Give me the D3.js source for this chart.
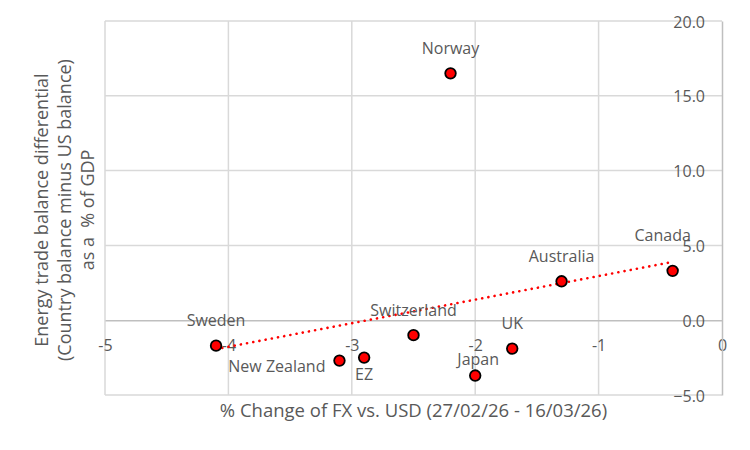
<!DOCTYPE html>
<html><head><meta charset="utf-8">
<script src="https://cdn.jsdelivr.net/npm/d3@7"></script>
<style>body{margin:0;background:#fff}svg{display:block}text{font-family:"Open Sans","Noto Sans",sans-serif;fill:#595959}</style>
</head><body>
<svg id="c" width="750" height="450"></svg>
<script>
const countries = ["Sweden","New Zealand","EZ","Switzerland","Japan","UK","Australia","Canada","Norway"];
const fxChange = [-4.1,-3.1,-2.9,-2.5,-2.0,-1.7,-1.3,-0.4,-2.2];
const energyDiff = [-1.7,-2.7,-2.5,-1.0,-3.7,-1.9,2.6,3.3,16.5];
const labelPos = ["above","left","below","above","above","above","above","above","above"];
const xTicks = [-5,-4,-3,-2,-1,0];
const yTicks = [-5,0,5,10,15,20];
const xTitle = "% Change of FX vs. USD (27/02/26 - 16/03/26)";
const yTitle = ["Energy trade balance differential","(Country balance minus US balance)","as a  % of GDP"];

const svg = d3.select("#c");
const x = d3.scaleLinear().domain([-5,0]).range([105,722]);
const y = d3.scaleLinear().domain([-5,20]).range([395,21]);

// gridlines
svg.append("g").selectAll("line").data(xTicks.filter(d=>d!==0)).join("line")
  .attr("x1",d=>x(d)).attr("x2",d=>x(d)).attr("y1",y(20)).attr("y2",y(-5))
  .attr("stroke","#d9d9d9").attr("stroke-width",1.5);
svg.append("g").selectAll("line").data(yTicks.filter(d=>d!==0)).join("line")
  .attr("x1",x(-5)).attr("x2",x(0)).attr("y1",d=>y(d)).attr("y2",d=>y(d))
  .attr("stroke","#d9d9d9").attr("stroke-width",1.5);

// axes
const xAxis = d3.axisBottom(x).tickValues(xTicks).tickSize(0).tickFormat(d3.format("d"));
const gx = svg.append("g").attr("transform",`translate(0,${y(0)})`).call(xAxis);
gx.select(".domain").attr("stroke","#bfbfbf").attr("stroke-width",1.5);
gx.selectAll("text").attr("y",25).attr("dy","0.35em").style("font-size","16px").style("fill","#595959").text(d=>String(d));

const yAxis = d3.axisLeft(y).tickValues(yTicks).tickSize(0).tickFormat(d3.format(".1f"));
const gy = svg.append("g").attr("transform",`translate(${x(0)},0)`).call(yAxis);
gy.select(".domain").attr("stroke","#bfbfbf").attr("stroke-width",1.5);
gy.selectAll("text").attr("x",-17).attr("dy","0.38em").style("font-size","16px").style("fill","#595959");

// trendline (least squares)
const n = fxChange.length;
const mx = d3.mean(fxChange), my = d3.mean(energyDiff);
let sxy=0, sxx=0;
for(let i=0;i<n;i++){sxy+=(fxChange[i]-mx)*(energyDiff[i]-my);sxx+=(fxChange[i]-mx)**2;}
const slope = sxy/sxx, icpt = my - slope*mx;
const xr = d3.extent(fxChange);
svg.append("line")
  .attr("x1",x(xr[0])).attr("y1",y(icpt+slope*xr[0]))
  .attr("x2",x(xr[1])).attr("y2",y(icpt+slope*xr[1]))
  .attr("stroke","#ff0000").attr("stroke-width",2.6)
  .attr("stroke-dasharray","0.1 6.2").attr("stroke-linecap","round");

// points
const data = countries.map((c,i)=>({c,x:fxChange[i],y:energyDiff[i],p:labelPos[i]}));
svg.append("g").selectAll("circle").data(data).join("circle")
  .attr("cx",d=>x(d.x)).attr("cy",d=>y(d.y)).attr("r",5.3)
  .attr("fill","#ff0000").attr("stroke","#000").attr("stroke-width",1.8);

// labels (placement tweaks)
const nudge = {Japan:[3,9], Canada:[-10,-10]};
svg.append("g").selectAll("text").data(data).join("text")
  .attr("x",d=> (d.p==="left" ? x(d.x)-14 : x(d.x)) + (nudge[d.c]?nudge[d.c][0]:0))
  .attr("y",d=> (d.p==="above" ? y(d.y)-25 : d.p==="below" ? y(d.y)+17 : y(d.y)+6) + (nudge[d.c]?nudge[d.c][1]:0))
  .attr("text-anchor",d=> d.p==="left" ? "end" : "middle")
  .attr("dy","0.35em")
  .style("font-size","16px")
  .text(d=>d.c);

// titles
svg.append("text").attr("x",(x(-5)+x(0))/2).attr("y",411).attr("dy","0.35em")
  .attr("text-anchor","middle").style("font-size","18.5px").text(xTitle);
const yt = svg.append("text").attr("transform","translate(65,210) rotate(-90)")
  .attr("text-anchor","middle").style("font-size","18px").style("white-space","pre");
yTitle.forEach((t,i)=>yt.append("tspan").attr("x",0).attr("y",(i-1)*23).attr("dy","0.35em").text(t));
</script>
</body></html>
